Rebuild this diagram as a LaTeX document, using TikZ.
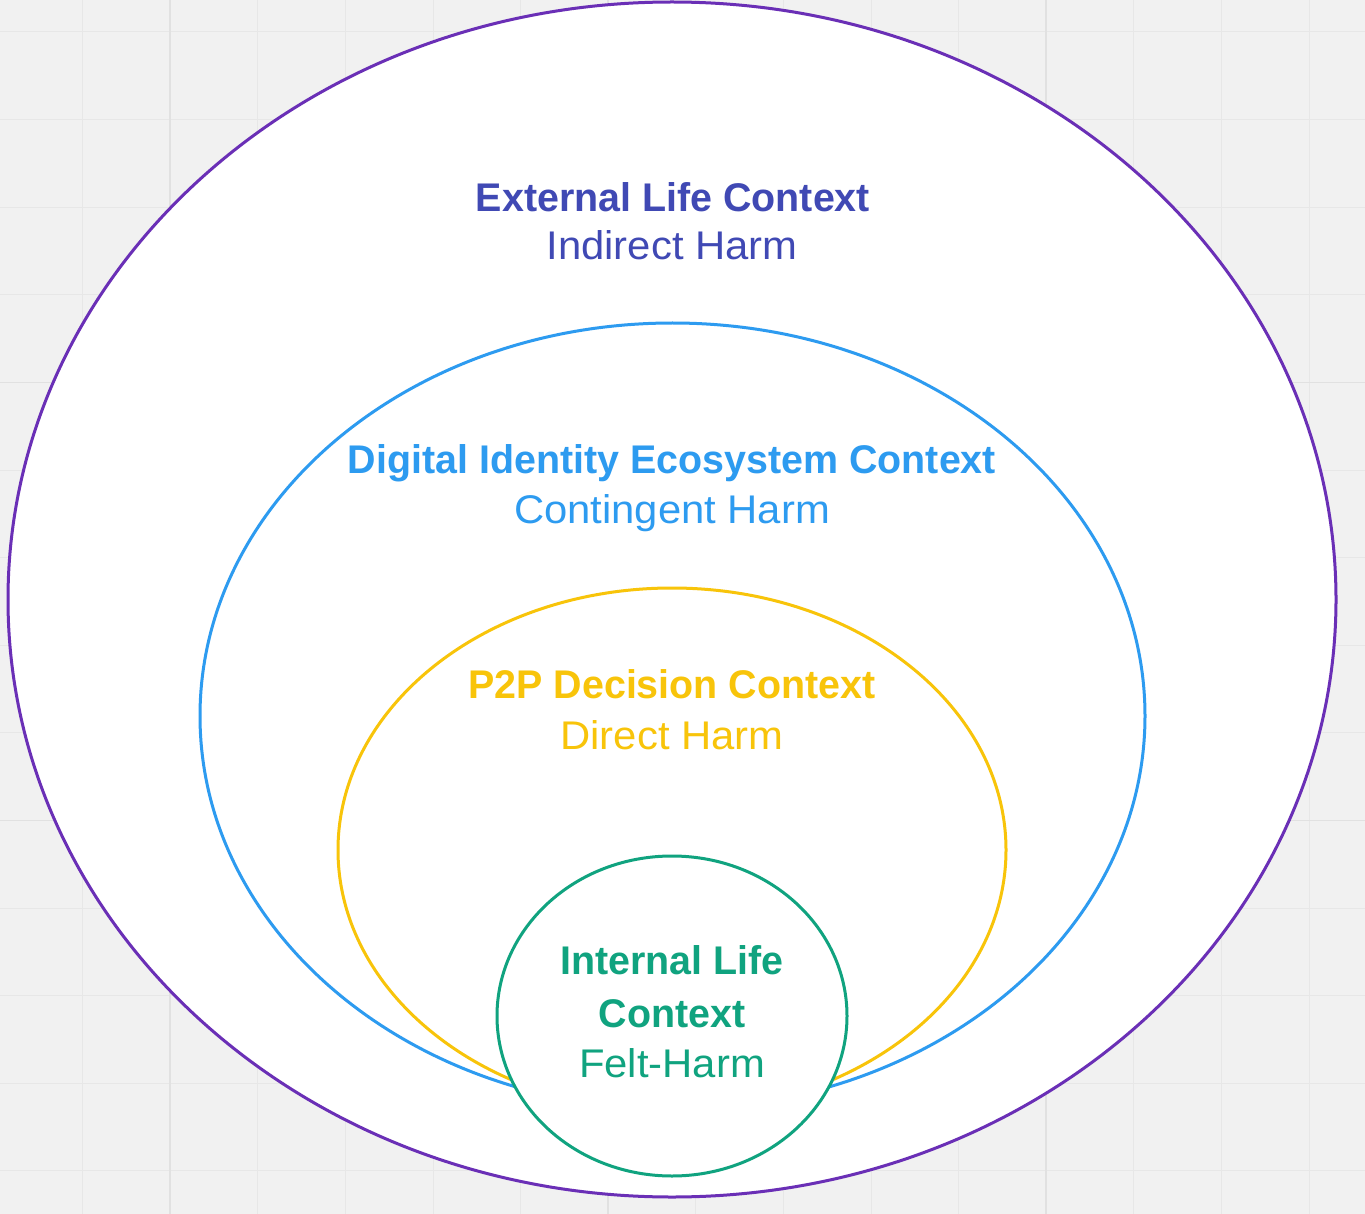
\documentclass[tikz,border=0pt]{standalone}
\usepackage{fontspec}
\setmainfont{Liberation Sans}
\newfontfamily\regf{Liberation Sans}[FakeStretch=1.045]
\newfontfamily\boldf{Liberation Sans}[FakeStretch=0.985]
\usetikzlibrary{shapes.geometric}
\definecolor{bgc}{HTML}{F1F1F1}
\definecolor{gridminor}{HTML}{E7E7E7}
\definecolor{gridmajor}{HTML}{E1E1E1}
\definecolor{cpurple}{HTML}{6A2FB6}
\definecolor{cblue}{HTML}{2D9BF0}
\definecolor{cyellow}{HTML}{F8C40A}
\definecolor{cgreen}{HTML}{10A37F}
\definecolor{cindigo}{HTML}{4049B4}
\tikzset{
  ring/.style={ellipse, draw, fill=white, line width=3pt, inner sep=0pt},
  ttl/.style={anchor=base, inner sep=0pt, font=\boldf\fontsize{40}{48}\selectfont\bfseries},
  sub/.style={anchor=base, inner sep=0pt, font=\regf\fontsize{40}{48}\selectfont},
}
\begin{document}
\begin{tikzpicture}[x=1pt,y=-1pt]
\fill[bgc] (0,0) rectangle (1365,1214);
\useasboundingbox (0,0) rectangle (1365,1214);
% grid
\foreach \i in {0,...,15} {
  \draw[gridminor, line width=1pt] ({-5+87.6*\i},0) -- ({-5+87.6*\i},1214);
  \draw[gridminor, line width=1pt] (0,{32+87.6*\i}) -- (1365,{32+87.6*\i});
}
\foreach \i in {0,1,2} {
  \draw[gridmajor, line width=1.6pt] ({170.2+438*\i},0) -- ({170.2+438*\i},1214);
}
\foreach \i in {0,1,2} {
  \draw[gridmajor, line width=1.6pt] (0,{-55.6+438*\i}) -- (1365,{-55.6+438*\i});
}
% rings
\node[ring, draw=cpurple, minimum width=1328pt, minimum height=1195pt] (outer) at (672,599.5) {};
\node[ring, draw=cblue, minimum width=945pt, minimum height=786pt] (eco) at (672.5,716) {};
\node[ring, draw=cyellow, minimum width=668pt, minimum height=524pt] (p2p) at (672,850) {};
\node[ring, draw=cgreen, minimum width=350pt, minimum height=320pt] (inner) at (672,1016) {};
% labels
\node[ttl, text=cindigo] (t1) at (673,212) {External Life Context};
\node[sub, text=cindigo] (s1) at (672,260) {Indirect Harm};
\node[ttl, text=cblue] (t2) at (672,473) {Digital Identity Ecosystem Context};
\node[sub, text=cblue] (s2) at (672,523) {Contingent Harm};
\node[ttl, text=cyellow] (t3) at (672,698) {P2P Decision Context};
\node[sub, text=cyellow] (s3) at (672,749) {Direct Harm};
\node[ttl, text=cgreen] (t4a) at (672,974) {Internal Life};
\node[ttl, text=cgreen] (t4b) at (672,1027) {Context};
\node[sub, text=cgreen] (s4) at (672,1077) {Felt-Harm};
\end{tikzpicture}
\end{document}
